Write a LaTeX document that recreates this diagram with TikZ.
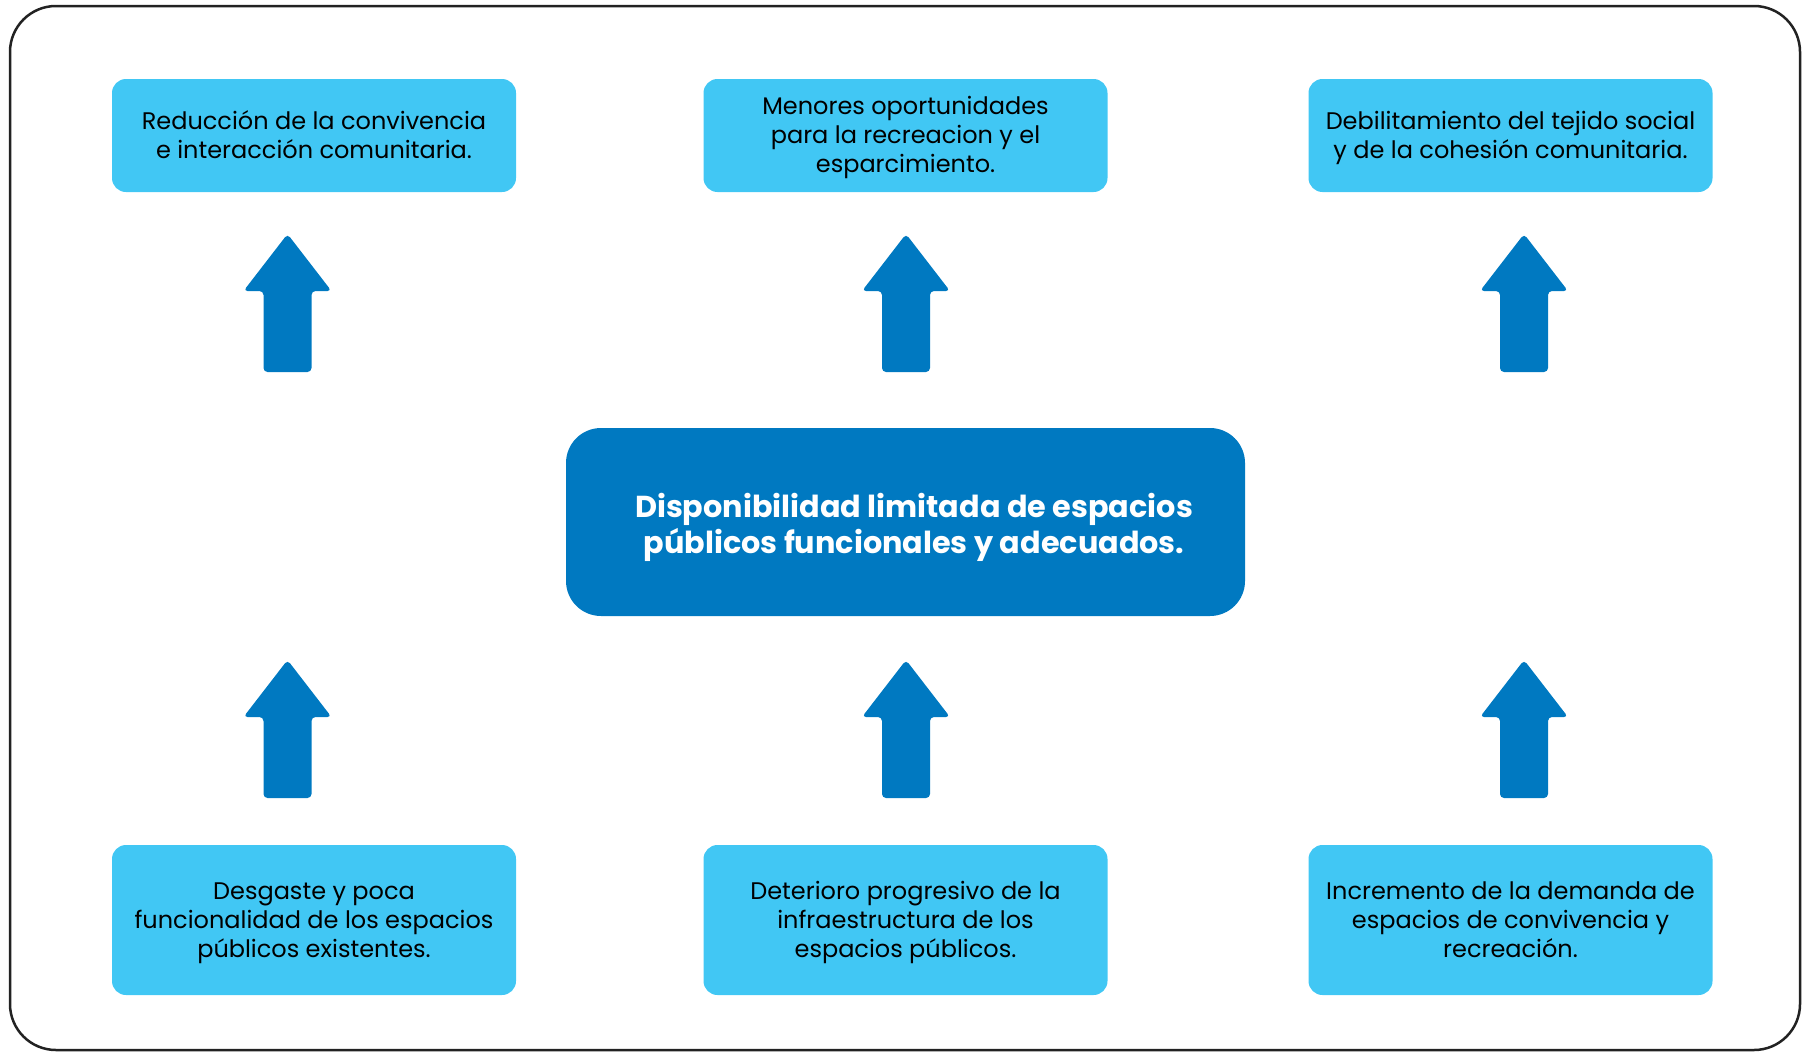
\documentclass[tikz,border=0pt]{standalone}
\usepackage{fontspec}
\setmainfont{Poppins}
\definecolor{lightb}{HTML}{41C7F4}
\definecolor{darkb}{HTML}{0079C1}
\definecolor{framec}{HTML}{222222}
\newcommand{\bx}{\vphantom{Áp}}
\tikzset{
  effbox/.style={fill=lightb, rounded corners=14pt, minimum width=404pt, minimum height=113pt,
    align=center, font=\fontsize{24}{29}\selectfont, text=black, inner sep=0pt},
  causebox/.style={effbox, minimum height=150pt},
  corebox/.style={fill=darkb, rounded corners=35pt, minimum width=679pt, minimum height=188pt,
    align=center, inner sep=0pt},
  upshape/.style={fill=darkb, rounded corners=4pt}
}
\newcommand{\uparrowshape}[2]{%
  \fill[upshape] (#1,#2-3) -- (#1+44,#2+54) -- (#1+24,#2+54) -- (#1+24,#2+135)
    -- (#1-24,#2+135) -- (#1-24,#2+54) -- (#1-44,#2+54) -- cycle;}
\begin{document}
\begin{tikzpicture}[x=1pt,y=-1pt]
\useasboundingbox (0,0) rectangle (1803,1052);
\draw[line width=2.5pt, color=framec, rounded corners=46pt] (10,6) rectangle (1800,1050);
% effects
\node[effbox] (t1) at (314,135.5) {\bx Reducción de la convivencia\\e interacción comunitaria.\bx};
\node[effbox] (t2) at (905.5,135.5) {\bx Menores oportunidades\\para la recreacion y el\\esparcimiento.\bx};
\node[effbox] (t3) at (1510.5,135.5) {\bx Debilitamiento del tejido social\\y de la cohesión comunitaria.\bx};
% core
\node[corebox] (c) at (905.5,522) {};
\node[text=white, align=center, font=\fontsize{30.3}{36}\selectfont\bfseries] (ct) at (914,527.5)
  {Disponibilidad limitada de espacios\\públicos funcionales y adecuados.};
% causes
\node[causebox] (b1) at (314,920) {\bx Desgaste y poca\\funcionalidad de los espacios\\públicos existentes.\bx};
\node[causebox] (b2) at (905.5,920) {\bx Deterioro progresivo de la\\infraestructura de los\\espacios públicos.\bx};
\node[causebox] (b3) at (1510.5,920) {\bx Incremento de la demanda de\\espacios de convivencia y\\recreación.\bx};
% arrows
\uparrowshape{287.5}{237}
\uparrowshape{906}{237}
\uparrowshape{1524}{237}
\uparrowshape{287.5}{663}
\uparrowshape{906}{663}
\uparrowshape{1524}{663}
\end{tikzpicture}
\end{document}
